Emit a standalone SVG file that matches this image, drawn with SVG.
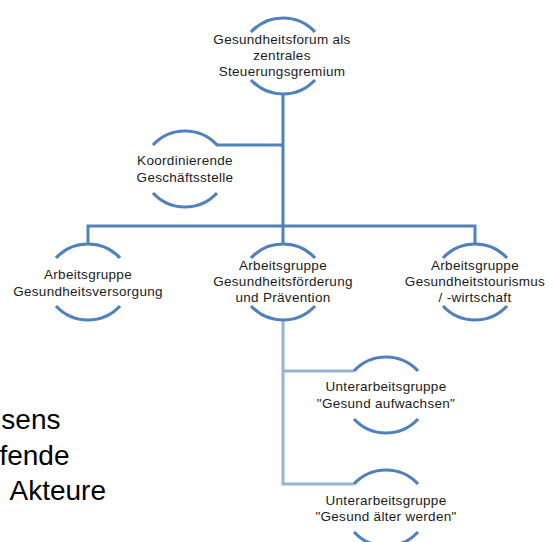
<svg xmlns="http://www.w3.org/2000/svg" width="554" height="542" viewBox="0 0 554 542">
<style>
.arc{fill:none;stroke:#4F81BD;stroke-width:3.2;stroke-linecap:butt}
.c{fill:none;stroke:#4F81BD;stroke-width:3}
.c2{fill:none;stroke:#95B3D7;stroke-width:3}
.t{font-family:"Liberation Sans",Arial,sans-serif;font-size:13.5px;letter-spacing:0.3px;fill:#1a1a1a;text-anchor:middle}
.big{font-family:"Liberation Sans",Arial,sans-serif;font-size:28px;fill:#000;text-anchor:end}
</style>
<rect width="554" height="542" fill="#fff"/>
<g id="bgtext">
<text class="big" x="60.5" y="429">sens</text>
<text class="big" x="69.5" y="465">fende</text>
<text class="big" x="106" y="500">Akteure</text>
</g>
<g id="connectors">
<path class="c" d="M283 94 V244"/>
<path class="c" d="M216 145 H283"/>
<path class="c" d="M88 244 V226 H475 V244"/>
<path class="c2" d="M283 320 V484 H354"/>
<path class="c2" d="M283 371 H354"/>
</g>
<g id="n-forum">
<path class="arc" d="M251 32 A43.6 43.6 0 0 1 315 32"/>
<path class="arc" d="M251 80 A43.6 43.6 0 0 0 315 80"/>
<text class="t" x="282" y="44">Gesundheitsforum als</text>
<text class="t" x="282" y="60">zentrales</text>
<text class="t" x="282" y="76">Steuerungsgremium</text>
</g>
<g id="n-koord">
<path class="arc" d="M153 145 A43.6 43.6 0 0 1 217 145"/>
<path class="arc" d="M153 193 A43.6 43.6 0 0 0 217 193"/>
<text class="t" x="185" y="165">Koordinierende</text>
<text class="t" x="185" y="182">Geschäftsstelle</text>
</g>
<g id="n-versorgung">
<path class="arc" d="M56 258 A43.6 43.6 0 0 1 120 258"/>
<path class="arc" d="M56 306 A43.6 43.6 0 0 0 120 306"/>
<text class="t" x="88" y="279">Arbeitsgruppe</text>
<text class="t" x="88" y="296">Gesundheitsversorgung</text>
</g>
<g id="n-foerderung">
<path class="arc" d="M251 258 A43.6 43.6 0 0 1 315 258"/>
<path class="arc" d="M251 306 A43.6 43.6 0 0 0 315 306"/>
<text class="t" x="283" y="270">Arbeitsgruppe</text>
<text class="t" x="283" y="286">Gesundheitsförderung</text>
<text class="t" x="283" y="302">und Prävention</text>
</g>
<g id="n-tourismus">
<path class="arc" d="M443 258 A43.6 43.6 0 0 1 507 258"/>
<path class="arc" d="M443 306 A43.6 43.6 0 0 0 507 306"/>
<text class="t" x="475" y="270">Arbeitsgruppe</text>
<text class="t" x="475" y="286">Gesundheitstourismus</text>
<text class="t" x="475" y="302">/ -wirtschaft</text>
</g>
<g id="n-aufwachsen">
<path class="arc" d="M354 371 A43.6 43.6 0 0 1 418 371"/>
<path class="arc" d="M354 419 A43.6 43.6 0 0 0 418 419"/>
<text class="t" x="386" y="391">Unterarbeitsgruppe</text>
<text class="t" x="386" y="408">"Gesund aufwachsen"</text>
</g>
<g id="n-aelter">
<path class="arc" d="M354 484 A43.6 43.6 0 0 1 418 484"/>
<path class="arc" d="M354 532 A43.6 43.6 0 0 0 418 532"/>
<text class="t" x="386" y="505">Unterarbeitsgruppe</text>
<text class="t" x="386" y="521">"Gesund älter werden"</text>
</g>
</svg>
